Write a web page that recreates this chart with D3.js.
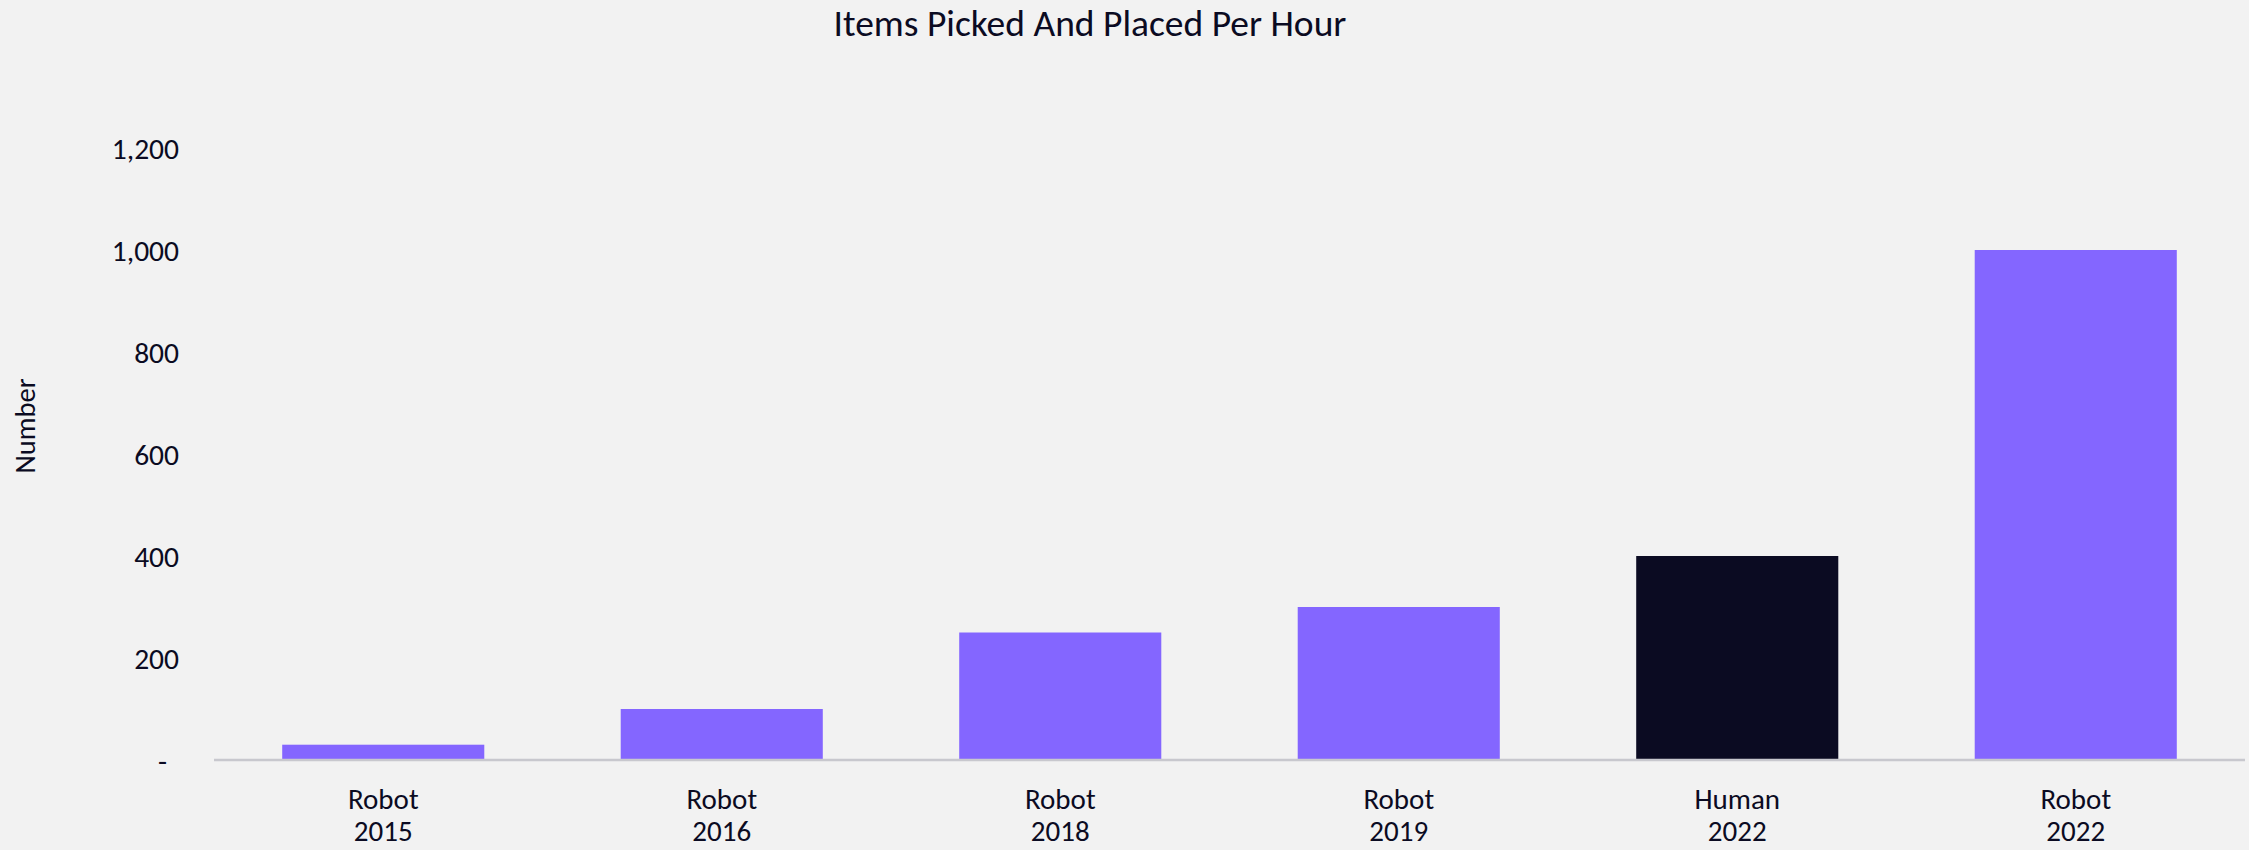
<!DOCTYPE html>
<html>
<head>
<meta charset="utf-8">
<script src="https://cdn.jsdelivr.net/npm/d3@7"></script>
<style>
  html, body { margin: 0; padding: 0; background: #F2F2F2; }
  svg { display: block; }
  text { font-family: Carlito, Lato, "Open Sans", sans-serif; fill: #0B0B22; }
</style>
</head>
<body>
<svg id="chart" width="2249" height="850"></svg>
<script>
const categories = ["Robot|2015", "Robot|2016", "Robot|2018", "Robot|2019", "Human|2022", "Robot|2022"];
const values = [30, 100, 250, 300, 400, 1000];
const barColors = ["#8466FF", "#8466FF", "#8466FF", "#8466FF", "#0B0B22", "#8466FF"];
const yTicks = [0, 200, 400, 600, 800, 1000, 1200];
const title = "Items Picked And Placed Per Hour";
const yTitle = "Number";

const W = 2249, H = 850;
const svg = d3.select("#chart");
svg.append("rect").attr("width", W).attr("height", H).attr("fill", "#F2F2F2");

const x = d3.scaleBand().domain(categories).range([214, 2245]).paddingInner(0.403).paddingOuter(0.2015);
const y = d3.scaleLinear().domain([0, 1200]).range([760, 148]);

// bars
svg.append("g").selectAll("rect").data(categories).join("rect")
  .attr("x", d => x(d))
  .attr("width", x.bandwidth())
  .attr("y", (d, i) => y(values[i]))
  .attr("height", (d, i) => y(0) - y(values[i]))
  .attr("fill", (d, i) => barColors[i]);

// y axis (labels only)
const yAxis = d3.axisLeft(y).tickValues(yTicks).tickSize(0).tickPadding(0)
  .tickFormat(v => v === 0 ? "-" : d3.format(",")(v));
const gy = svg.append("g").attr("transform", "translate(179,0)").call(yAxis);
gy.select(".domain").remove();
gy.selectAll("text").style("font-size", "29.5px").attr("fill", "#0B0B22").style("font-family", null)
  .attr("dy", "0.35em");
gy.selectAll(".tick").filter(d => d === 0).select("text").attr("x", -12);

// x axis
const xAxis = d3.axisBottom(x).tickSize(0).tickPadding(0).tickFormat("");
const gx = svg.append("g").attr("transform", `translate(0,${y(0)})`).call(xAxis);
gx.select(".domain").attr("d", "M214,0H2245").attr("stroke", "#C8C8CE").attr("stroke-width", 2.5);
gx.selectAll(".tick").each(function(d) {
  const parts = d.split("|");
  const t = d3.select(this).append("text").attr("text-anchor", "middle")
    .style("font-size", "29px").attr("fill", "#0B0B22");
  t.append("tspan").attr("x", 0).attr("y", 49).text(parts[0]);
  t.append("tspan").attr("x", 0).attr("y", 81).text(parts[1]);
});

// title
svg.append("text").attr("x", 1090).attr("y", 36).attr("text-anchor", "middle")
  .style("font-size", "37.5px").text(title);

// y title
svg.append("text").attr("transform", "translate(35,426) rotate(-90)").attr("text-anchor", "middle")
  .style("font-size", "28.5px").text(yTitle);
</script>
</body>
</html>
